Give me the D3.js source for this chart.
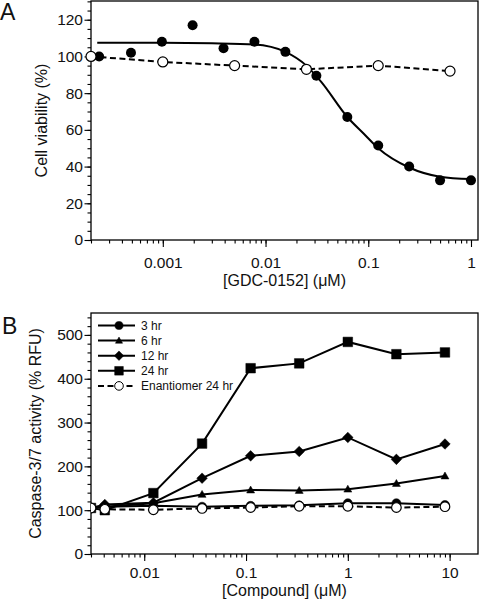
<!DOCTYPE html>
<html><head><meta charset="utf-8">
<script src="https://cdn.jsdelivr.net/npm/d3@7"></script>
<style>
html,body{margin:0;padding:0;background:#fff;}
svg{display:block;font-family:"Liberation Sans",Arial,Helvetica,sans-serif;}
</style></head>
<body>
<svg id="c" width="480" height="600"></svg>
<script>
// ---------- Panel A data ----------
const aDose = [0.00024,0.00049,0.00098,0.00195,0.0039,0.0078,0.0156,0.03125,0.0625,0.125,0.25,0.5,1];
const aViab = [100,102,108,117,104.5,108,102.5,89.5,67,51.5,40,32.5,32.5];
const aEnDose = [0.0002,0.001,0.005,0.025,0.125,0.625];
const aEnViab = [100,97,95,93,95,92];
const aFitDose = [0.00023,0.001,0.003,0.0078,0.0156,0.025,0.035,0.0625,0.09,0.125,0.25,0.5,1];
const aFitViab = [107.5,107.5,107.2,106.5,102.5,95,86,67,58,50,39.5,34.5,33.2];
const aXTicks = [0.001,0.01,0.1,1];
const aXTickLabels = ["0.001","0.01","0.1","1"];
const aYTicks = [0,20,40,60,80,100,120];

// ---------- Panel B data ----------
const bDose = [0.003,0.0041,0.0123,0.037,0.111,0.333,1,3,9];
const b3hr  = [105,108,110,108,110,111,116,116,112];
const b6hr  = [105,108,116,136,146,145,148,161,178];
const b12hr = [105,113,117,173,224,234,266,216,251];
const b24hr = [105,100,139,252,424,435,484,456,460];
const bEnant= [105,102,101,104,106,109,109,106,108];
const bSeriesNames = ["3 hr","6 hr","12 hr","24 hr","Enantiomer 24 hr"];
const bXTicks = [0.01,0.1,1,10];
const bXTickLabels = ["0.01","0.1","1","10"];
const bYTicks = [0,100,200,300,400,500];

const svg = d3.select("#c");
const FS_TICK = 15.5;
const FS_TITLE = 16;

function minorLog(lo, hi){
  const out=[];
  for(let e=-5;e<=2;e++){
    for(let m=1;m<=9;m++){
      const v=m*Math.pow(10,e);
      if(v>=lo*0.999 && v<=hi*1.001) out.push(v);
    }
  }
  return out;
}

function markerPath(type, s){
  if(type==="circle"){ return d3.symbol().type(d3.symbolCircle).size(Math.PI*s*s)(); }
  if(type==="triangle"){ return `M0,${-s*0.95}L${s*0.95},${s*0.7}L${-s*0.95},${s*0.7}Z`; }
  if(type==="diamond"){ return `M0,${-s*1.15}L${s*1.15},0L0,${s*1.15}L${-s*1.15},0Z`; }
  if(type==="square"){ return `M${-s},${-s}H${s}V${s}H${-s}Z`; }
}

function drawAxes(g, x, y, left, right, top, bottom, xMajor, xLabels, xMinor, yMajor, yMinorStep, yMax, xTitle, yTitle, yTitleX, xTitleY, tickLabelY){
  g.append("rect").attr("x",left).attr("y",top).attr("width",right-left).attr("height",bottom-top)
    .attr("fill","none").attr("stroke","#000").attr("stroke-width",1.3);
  const xMin = d3.axisBottom(x).tickValues(xMinor).tickSize(3.5).tickFormat("");
  g.append("g").attr("transform",`translate(0,${bottom})`).call(xMin)
    .call(s=>s.select(".domain").remove()).selectAll("line").attr("stroke-width",1.1);
  const xMaj = d3.axisBottom(x).tickValues(xMajor).tickSize(7).tickFormat((d,i)=>xLabels[i]);
  const gx = g.append("g").attr("transform",`translate(0,${bottom})`).call(xMaj);
  gx.select(".domain").remove();
  gx.selectAll("line").attr("stroke-width",1.1);
  gx.selectAll("text").attr("font-size",FS_TICK).attr("font-family","Liberation Sans, Arial").attr("y",tickLabelY).attr("dy","0.71em").attr("fill","#111");
  const yMinor = d3.range(0, yMax+0.001, yMinorStep);
  const yMin = d3.axisLeft(y).tickValues(yMinor).tickSize(3.5).tickFormat("");
  g.append("g").attr("transform",`translate(${left},0)`).call(yMin)
    .call(s=>s.select(".domain").remove()).selectAll("line").attr("stroke-width",1.1);
  const yMaj = d3.axisLeft(y).tickValues(yMajor).tickSize(6.5).tickPadding(1.5);
  const gy = g.append("g").attr("transform",`translate(${left},0)`).call(yMaj);
  gy.select(".domain").remove();
  gy.selectAll("line").attr("stroke-width",1.1);
  gy.selectAll("text").attr("font-size",FS_TICK).attr("font-family","Liberation Sans, Arial").attr("fill","#111");
  g.append("text").attr("x",(left+right)/2).attr("y",xTitleY).attr("text-anchor","middle")
    .attr("font-size",FS_TITLE).attr("fill","#111").html(xTitle);
  g.append("text").attr("transform",`translate(${yTitleX},${(top+bottom)/2}) rotate(-90)`)
    .attr("text-anchor","middle").attr("font-size",FS_TITLE).attr("fill","#111").text(yTitle);
}

// ================= Panel A =================
{
  const left=91, right=478, top=1, bottom=240;
  const x = d3.scaleLog().domain([0.0002,1.17]).range([left,right]);
  const y = d3.scaleLinear().domain([0,130.2]).range([bottom,top]);
  const g = svg.append("g");
  drawAxes(g,x,y,left,right,top,bottom,aXTicks,aXTickLabels,minorLog(0.0002,1.17),aYTicks,5,130,
    "[GDC-0152] (<tspan>μ</tspan>M)","Cell viability (%)",46.5,286,16.5);
  g.append("text").attr("x",0).attr("y",20).attr("font-size",23).attr("fill","#111").text("A");

  const fit = aFitDose.map((d,i)=>[d,aFitViab[i]]);
  g.append("path").datum(fit).attr("fill","none").attr("stroke","#000").attr("stroke-width",2)
    .attr("d",d3.line().x(d=>x(d[0])).y(d=>y(d[1])).curve(d3.curveMonotoneX));
  const en = aEnDose.map((d,i)=>[d,aEnViab[i]]);
  g.append("path").datum(en).attr("fill","none").attr("stroke","#000").attr("stroke-width",2)
    .attr("stroke-dasharray","6,3.5").attr("d",d3.line().x(d=>x(d[0])).y(d=>y(d[1])));
  const pts = aDose.map((d,i)=>[d,aViab[i]]);
  g.selectAll(".fc").data(pts).join("circle").attr("cx",d=>x(d[0])).attr("cy",d=>y(d[1]))
    .attr("r",5).attr("fill","#000");
  g.selectAll(".oc").data(en).join("circle").attr("cx",d=>x(d[0])).attr("cy",d=>y(d[1]))
    .attr("r",5).attr("fill","#fff").attr("stroke","#000").attr("stroke-width",1.2);
}

// ================= Panel B =================
{
  const left=91, right=478, top=313, bottom=554;
  const x = d3.scaleLog().domain([0.003,19]).range([left,right]);
  const y = d3.scaleLinear().domain([0,550]).range([bottom,top]);
  const g = svg.append("g");
  drawAxes(g,x,y,left,right,top,bottom,bXTicks,bXTickLabels,minorLog(0.003,19),bYTicks,20,548,
    "[Compound] (<tspan>μ</tspan>M)","Caspase-3/7 activity (% RFU)",41,596,12.5);
  g.append("text").attr("x",2).attr("y",334).attr("font-size",23).attr("fill","#111").text("B");

  svg.append("clipPath").attr("id","clipB").append("rect")
    .attr("x",left).attr("y",top).attr("width",right-left).attr("height",bottom-top);

  const series = [
    {name:bSeriesNames[0], vals:b3hr,  m:"circle",   s:4.5, fill:"#000", dash:null},
    {name:bSeriesNames[1], vals:b6hr,  m:"triangle", s:4.2, fill:"#000", dash:null},
    {name:bSeriesNames[2], vals:b12hr, m:"diamond",  s:4.6, fill:"#000", dash:null},
    {name:bSeriesNames[3], vals:b24hr, m:"square",   s:4.8, fill:"#000", dash:null},
    {name:bSeriesNames[4], vals:bEnant,m:"circle",   s:4.8, fill:"#fff", dash:"6,3.5"}
  ];
  const line = d3.line().x(d=>x(d[0])).y(d=>y(d[1]));
  const plot = g.append("g").attr("clip-path","url(#clipB)");
  series.forEach(sr=>{
    const pts = bDose.map((d,i)=>[d,sr.vals[i]]);
    plot.append("path").datum(pts).attr("fill","none").attr("stroke","#000").attr("stroke-width",2)
      .attr("stroke-dasharray",sr.dash).attr("d",line);
  });
  series.forEach(sr=>{
    const pts = bDose.map((d,i)=>[d,sr.vals[i]]);
    plot.selectAll(null).data(pts).join("path").attr("d",markerPath(sr.m,sr.s))
      .attr("transform",d=>`translate(${x(d[0])},${y(d[1])})`)
      .attr("fill",sr.fill).attr("stroke","#000").attr("stroke-width",sr.fill==="#fff"?1.2:0.5);
  });

  const lg = g.append("g");
  series.forEach((sr,i)=>{
    const yy = 325.5 + i*15.1;
    lg.append("line").attr("x1",98).attr("x2",135).attr("y1",yy).attr("y2",yy)
      .attr("stroke","#000").attr("stroke-width",2).attr("stroke-dasharray",sr.dash);
    lg.append("path").attr("d",markerPath(sr.m,sr.s*0.9)).attr("transform",`translate(119,${yy})`)
      .attr("fill",sr.fill).attr("stroke","#000").attr("stroke-width",sr.fill==="#fff"?1:0.5);
    lg.append("text").attr("x",141).attr("y",yy+4.2).attr("font-size",12).attr("fill","#111").text(sr.name);
  });
}
</script>
</body></html>
